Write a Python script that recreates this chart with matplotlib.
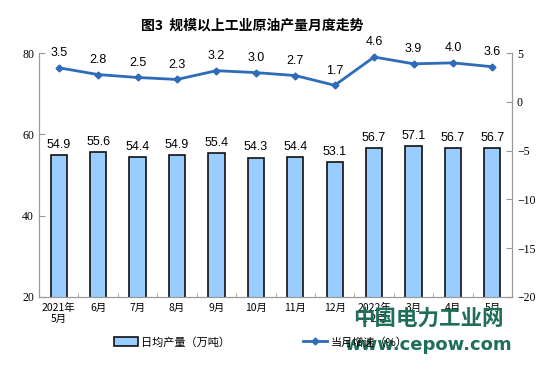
import matplotlib.pyplot as plt
import numpy as np

plt.rcParams['font.family'] = ['Noto Sans CJK SC', 'DejaVu Sans']

months = ['2021年\n5月', '6月', '7月', '8月', '9月', '10月', '11月', '12月',
          '2022年\n1-2月', '3月', '4月', '5月']
output = [54.9, 55.6, 54.4, 54.9, 55.4, 54.3, 54.4, 53.1, 56.7, 57.1, 56.7, 56.7]
growth = [3.5, 2.8, 2.5, 2.3, 3.2, 3.0, 2.7, 1.7, 4.6, 3.9, 4.0, 3.6]

x = np.arange(len(months))

fig = plt.figure(figsize=(5.54, 3.74), dpi=100)
ax = fig.add_axes([0.0704, 0.206, 0.854, 0.652])
ax2 = ax.twinx()

bars = ax.bar(x, output, width=0.41, color='#99CCFF', edgecolor='#111111',
              linewidth=1.2, label='日均产量（万吨）')
for xi, v in zip(x, output):
    ax.text(xi, v + 1.0, f'{v:.1f}', ha='center', va='bottom',
            fontsize=9, family='Liberation Sans')

line, = ax2.plot(x, growth, color='#2E6BB8', linewidth=2, marker='D',
                 markersize=3.5, label='当月增速（%）')
for xi, v in zip(x, growth):
    ax2.text(xi, v + 0.9, f'{v:.1f}', ha='center', va='bottom',
             fontsize=9, family='Liberation Sans')

ax.set_xlim(-0.5, len(months) - 0.5)
ax.set_ylim(20, 80)
ax.set_yticks([20, 40, 60, 80])
ax2.set_ylim(-20, 5)
ax2.set_yticks([-20, -15, -10, -5, 0, 5])
ax2.set_zorder(ax.get_zorder() + 1)
ax2.patch.set_visible(False)

ax.set_xticks(x)
ax.set_xticklabels(months, fontsize=7.5)
ax.tick_params(axis='x', length=0, pad=4)
ax.set_xticks(np.arange(-0.5, len(months)), minor=True)
ax.tick_params(axis='x', which='minor', direction='in', length=3, color='#999999')

for a in (ax, ax2):
    a.tick_params(axis='y', direction='in', length=4, color='#999999',
                  labelsize=8.5)
    for lbl in a.get_yticklabels():
        lbl.set_family('Liberation Serif')
    for s in a.spines.values():
        s.set_color('#999999')
    a.spines['top'].set_visible(False)

fig.text(0.455, 0.932, '图3  规模以上工业原油产量月度走势', ha='center', va='center',
         fontsize=10, fontweight='bold')

fig.legend([bars, line], ['日均产量（万吨）', '当月增速（%）'], loc='center',
           bbox_to_anchor=(0.47, 0.085), ncol=2, frameon=False, fontsize=8,
           columnspacing=6.5, handlelength=2.2, handleheight=0.8,
           handletextpad=0.3)

# watermark
fig.text(0.773, 0.15, '中国电力工业网', ha='center', va='center', fontsize=15.5,
         fontweight='bold', color='#1E6E5A')
fig.text(0.773, 0.078, 'www.cepow.com', ha='center', va='center', fontsize=13,
         fontweight='bold', color='#1E6E5A', family='DejaVu Sans')

fig.savefig('out.png', dpi=100)
